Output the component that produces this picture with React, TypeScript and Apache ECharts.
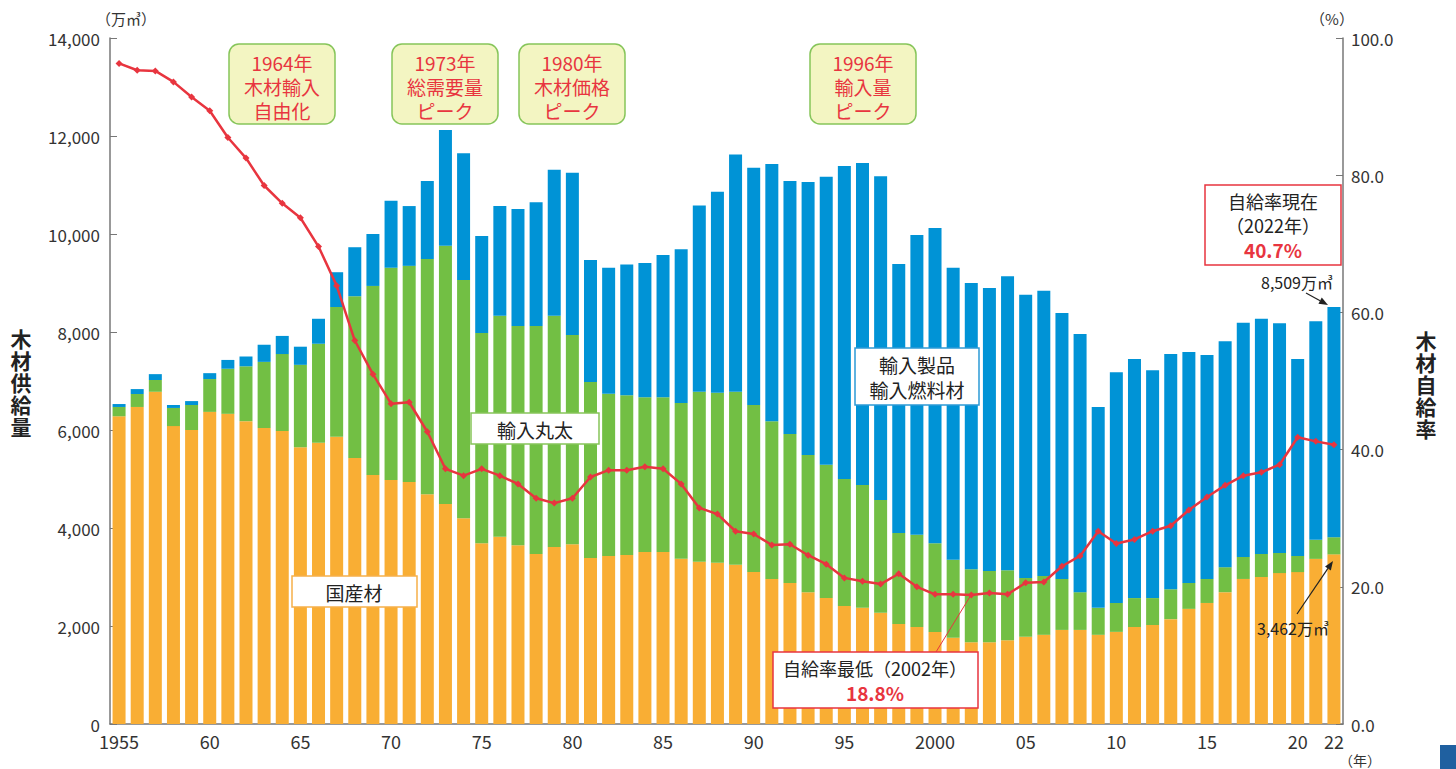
import React, { useEffect, useRef } from "react";
import * as echarts from "echarts";

const years: number[] = Array.from({ length: 68 }, (_, i) => 1955 + i);

const domestic = [
  6280, 6470, 6780, 6080, 6000, 6370, 6330, 6180, 6040, 5980,
  5650, 5740, 5860, 5430, 5080, 4980, 4940, 4690, 4490, 4200,
  3690, 3820, 3650, 3470, 3610, 3670, 3390, 3430, 3450, 3510,
  3510, 3370, 3310, 3290, 3250, 3100, 2960, 2880, 2690, 2570,
  2410, 2370, 2270, 2040, 1980, 1880, 1760, 1670, 1670, 1710,
  1780, 1820, 1920, 1920, 1820, 1880, 1980, 2020, 2140, 2350,
  2470, 2690, 2960, 3000, 3080, 3100, 3370, 3462,
];

const importLogs = [
  190, 265, 240, 370, 510, 670, 920, 1120, 1350, 1570,
  1680, 2020, 2650, 3300, 3860, 4330, 4410, 4800, 5270, 4860,
  4290, 4510, 4470, 4650, 4720, 4270, 3590, 3310, 3260, 3160,
  3160, 3180, 3470, 3470, 3530, 3410, 3220, 3040, 2800, 2720,
  2590, 2510, 2300, 1860, 1880, 1810, 1590, 1490, 1450, 1430,
  1200, 1200, 1040, 770, 550, 590, 590, 550, 610, 530,
  490, 510, 450, 470, 410, 330, 390, 350,
];

const importProducts = [
  60, 100, 120, 60, 80, 120, 180, 200, 350, 370,
  370, 510, 710, 1000, 1060, 1370, 1220, 1590, 2360, 2590,
  1980, 2240, 2390, 2530, 2980, 3310, 2490, 2570, 2670, 2740,
  2900, 3140, 3800, 4100, 4840, 4840, 5250, 5160, 5570, 5880,
  6390, 6570, 6610, 5490, 6120, 6430, 5960, 5840, 5780, 6000,
  5780, 5820, 5430, 5270, 4100, 4710, 4880, 4650, 4800, 4710,
  4570, 4610, 4780, 4800, 4690, 4020, 4460, 4697,
];

const selfRate = [
  96.3, 95.3, 95.2, 93.6, 91.4, 89.4, 85.5, 82.5, 78.5, 75.9,
  73.8, 69.6, 63.9, 55.9, 51.0, 46.7, 46.9, 42.6, 37.2, 36.2,
  37.2, 36.2, 35.0, 32.9, 32.2, 32.9, 36.0, 37.0, 37.0, 37.5,
  37.2, 35.0, 31.5, 30.6, 28.1, 27.7, 26.1, 26.2, 24.6, 23.3,
  21.3, 20.8, 20.4, 21.9, 20.0, 18.9, 18.9, 18.8, 19.1, 18.9,
  20.6, 20.7, 23.0, 24.5, 28.1, 26.3, 26.9, 28.1, 28.9, 31.2,
  33.1, 34.8, 36.2, 36.7, 37.8, 41.8, 41.2, 40.7,
];

const tickYears = [1955, 1960, 1965, 1970, 1975, 1980, 1985, 1990, 1995, 2000, 2005, 2010, 2015, 2020, 2022];
const tickLabels = ["1955", "60", "65", "70", "75", "80", "85", "90", "95", "2000", "05", "10", "15", "20", "22"];

const FONT = '"Noto Sans CJK JP", "Noto Sans", sans-serif';
const RED = "#e8353f";

function textEl(text: string, x: number, y: number, size: number, fill: string, align = "center", weight = "normal", lineHeight?: number) {
  const style: any = {
    text,
    x,
    y,
    fill,
    font: `${weight} ${size}px ${FONT}`,
    textAlign: align,
    textVerticalAlign: "middle",
  };
  if (lineHeight) style.lineHeight = lineHeight;
  return { type: "text", z: 100, style };
}

function boxEl(x: number, y: number, w: number, h: number, fill: string, stroke: string, r = 0, lw = 1.5) {
  return {
    type: "rect",
    z: 90,
    shape: { x, y, width: w, height: h, r },
    style: { fill, stroke, lineWidth: lw },
  };
}

function arrowEl(x1: number, y1: number, x2: number, y2: number, color: string) {
  const ang = Math.atan2(y2 - y1, x2 - x1);
  const len = 9;
  const wid = 3.5;
  const bx = x2 - len * Math.cos(ang);
  const by = y2 - len * Math.sin(ang);
  const px = -Math.sin(ang) * wid;
  const py = Math.cos(ang) * wid;
  return [
    {
      type: "line",
      z: 100,
      shape: { x1, y1, x2: bx, y2: by },
      style: { stroke: color, lineWidth: 1.2 },
    },
    {
      type: "polygon",
      z: 100,
      shape: { points: [[x2, y2], [bx + px, by + py], [bx - px, by - py]] },
      style: { fill: color },
    },
  ];
}

function headerBox(x: number, lines: string[]) {
  const w = 106;
  const els: any[] = [boxEl(x, 44, w, 80, "#f3f5c2", "#86c55a", 10, 1.5)];
  lines.forEach((t, i) => els.push(textEl(t, x + w / 2, 62 + i * 24, 19, RED)));
  return els;
}

function verticalText(chars: string[], x: number, yTop: number, step: number) {
  return chars.map((c, i) => textEl(c, x, yTop + i * step, 21, "#222", "center", "bold", 21));
}

export default function App() {
  const ref = useRef<HTMLDivElement>(null);

  useEffect(() => {
    if (!ref.current) return;
    const chart = echarts.init(ref.current, undefined, { renderer: "svg" });

    const graphics: any[] = [
      ...headerBox(229, ["1964年", "木材輸入", "自由化"]),
      ...headerBox(392, ["1973年", "総需要量", "ピーク"]),
      ...headerBox(519, ["1980年", "木材価格", "ピーク"]),
      ...headerBox(810, ["1996年", "輸入量", "ピーク"]),
      boxEl(292, 576, 125, 31, "#ffffff", "#f6b04a", 0, 1.5),
      textEl("国産材", 354, 592, 19, "#222"),
      boxEl(471, 413, 128, 31, "#ffffff", "#86c55a", 0, 1.5),
      textEl("輸入丸太", 535, 429, 19, "#222"),
      boxEl(855, 348, 124, 57, "#ffffff", "#2d9ad6", 0, 1.5),
      textEl("輸入製品", 917, 364, 19, "#222"),
      textEl("輸入燃料材", 917, 389, 19, "#222"),
      {
        type: "line",
        z: 95,
        shape: { x1: 936, y1: 652, x2: 971, y2: 595 },
        style: { stroke: RED, lineWidth: 1 },
      },
      boxEl(773, 652, 205, 56, "#ffffff", RED, 0, 1.5),
      textEl("自給率最低（2002年）", 875, 668, 18, "#222"),
      textEl("18.8%", 875, 692, 19, RED, "center", "bold"),
      boxEl(1205, 185, 136, 80, "#ffffff", RED, 0, 1.5),
      textEl("自給率現在", 1273, 201, 18, "#222"),
      textEl("（2022年）", 1273, 225, 18, "#222"),
      textEl("40.7%", 1273, 249, 19, RED, "center", "bold"),
      textEl("8,509万㎥", 1297, 282, 16, "#222"),
      ...arrowEl(1306, 293, 1328, 305, "#222"),
      textEl("3,462万㎥", 1293, 628, 16, "#222"),
      ...arrowEl(1297, 614, 1333, 561, "#222"),
      textEl("（万㎥）", 126, 18, 15, "#333"),
      textEl("（%）", 1332, 18, 15, "#333"),
      textEl("（年）", 1360, 760, 14, "#333"),
      ...verticalText(["木", "材", "供", "給", "量"], 21, 338, 22),
      ...verticalText(["木", "材", "自", "給", "率"], 1426, 340, 22),
      {
        type: "rect",
        z: 90,
        shape: { x: 1440, y: 745, width: 16, height: 24 },
        style: { fill: "#1f60a0" },
      },
    ];

    chart.setOption({
      animation: false,
      textStyle: { fontFamily: FONT },
      grid: { left: 110, right: 113, top: 38, bottom: 45, containLabel: false },
      xAxis: {
        type: "category",
        data: years.map(String),
        boundaryGap: true,
        axisLine: { lineStyle: { color: "#777", width: 1.5 } },
        axisTick: { show: false },
        axisLabel: {
          interval: (i: number) => tickYears.indexOf(years[i]) >= 0,
          formatter: (v: string) => {
            const k = tickYears.indexOf(Number(v));
            return k >= 0 ? tickLabels[k] : "";
          },
          fontSize: 18,
          color: "#333",
          margin: 8,
        },
      },
      yAxis: [
        {
          type: "value",
          min: 0,
          max: 14000,
          interval: 2000,
          axisLine: { show: true, lineStyle: { color: "#777", width: 1.5 } },
          axisTick: { show: true, inside: true, length: 7, lineStyle: { color: "#777" } },
          splitLine: { show: false },
          axisLabel: {
            fontSize: 17,
            color: "#333",
            margin: 10,
            formatter: (v: number) => v.toLocaleString("en-US"),
          },
        },
        {
          type: "value",
          min: 0,
          max: 100,
          interval: 20,
          position: "right",
          axisLine: { show: true, lineStyle: { color: "#777", width: 1.5 } },
          axisTick: { show: true, inside: true, length: 7, lineStyle: { color: "#777" } },
          splitLine: { show: false },
          axisLabel: {
            fontSize: 17,
            color: "#333",
            margin: 8,
            formatter: (v: number) => v.toFixed(1),
          },
        },
      ],
      series: [
        {
          name: "国産材",
          type: "bar",
          stack: "supply",
          barWidth: 13,
          data: domestic,
          itemStyle: { color: "#f9ae34" },
        },
        {
          name: "輸入丸太",
          type: "bar",
          stack: "supply",
          barWidth: 13,
          data: importLogs,
          itemStyle: { color: "#72bf44" },
        },
        {
          name: "輸入製品・輸入燃料材",
          type: "bar",
          stack: "supply",
          barWidth: 13,
          data: importProducts,
          itemStyle: { color: "#0093d6" },
        },
        {
          name: "木材自給率",
          type: "line",
          yAxisIndex: 1,
          data: selfRate,
          z: 10,
          symbol: "diamond",
          symbolSize: 7,
          lineStyle: { color: RED, width: 2.5 },
          itemStyle: { color: RED },
        },
      ],
      graphic: graphics,
    });

    return () => chart.dispose();
  }, []);

  return (
    <div
      ref={ref}
      style={{ position: "fixed", left: 0, top: 0, width: 1456, height: 769, background: "#fff" }}
    />
  );
}
